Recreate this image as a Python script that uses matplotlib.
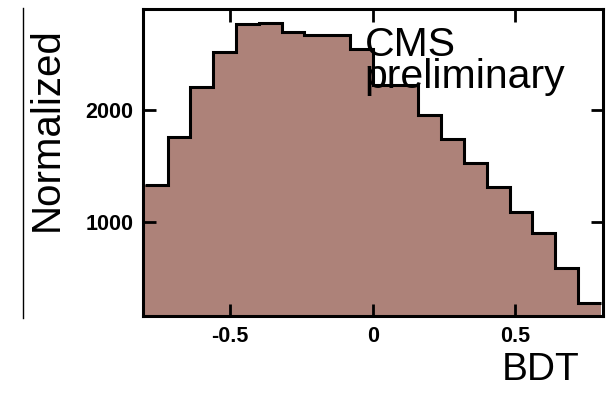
import numpy as np
import matplotlib
matplotlib.use('Agg')
import matplotlib.pyplot as plt
from matplotlib.lines import Line2D

plt.rcParams['font.family'] = ['Liberation Sans', 'DejaVu Sans']

# BDT histogram, 20 bins between -0.8 and 0.8
bin_edges = np.linspace(-0.8, 0.8, 21)
counts = [1329, 1761, 2209, 2522, 2770, 2782, 2701, 2671, 2671, 2546,
          2224, 2224, 1955, 1738, 1523, 1308, 1090, 896, 583, 270]
x_ticks = [-0.5, 0, 0.5]
x_tick_labels = ['-0.5', '0', '0.5']
y_ticks = [1000, 2000]

fig = plt.figure(figsize=(6.07, 3.94), dpi=100)
ax = fig.add_axes([0.2356, 0.198, 0.7578, 0.779])

# histogram fill and outline
ax.stairs(counts, bin_edges, fill=True, color='#ad8279', baseline=0)
ax.stairs(counts, bin_edges, color='black', linewidth=2.2, baseline=None)

ax.set_xlim(-0.806, 0.808)
ax.set_ylim(156, 2904)

ax.set_xticks(x_ticks)
ax.set_xticklabels(x_tick_labels)
ax.set_yticks(y_ticks)
ax.tick_params(direction='in', length=9, width=2, top=True, right=True,
               labelsize=15.5, pad=7)
for lab in ax.get_xticklabels() + ax.get_yticklabels():
    lab.set_fontweight('bold')
for sp in ax.spines.values():
    sp.set_linewidth(2.2)

ax.text(-0.028, 2750, 'CMS\npreliminary', fontsize=29.5, linespacing=0.8,
        ha='left', va='top', color='black')

fig.text(0.955, 0.015, 'BDT', fontsize=28, ha='right', va='bottom')
fig.text(0.077, 0.672, 'Normalized', fontsize=29, rotation=90,
         ha='center', va='center')

# stray vertical rule on the left
fig.add_artist(Line2D([23 / 607, 23 / 607], [1 - 8 / 394, 1 - 318 / 394],
                      transform=fig.transFigure, color='black', linewidth=1))

fig.savefig('out.png', dpi=100)
